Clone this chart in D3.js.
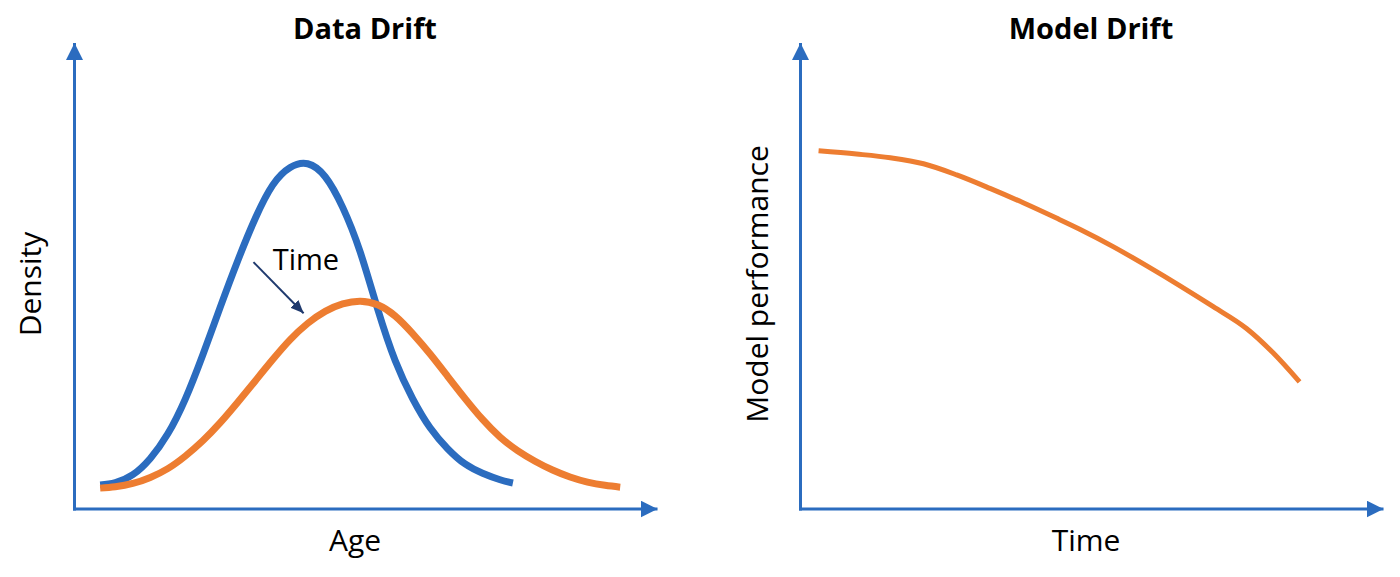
<!DOCTYPE html>
<html>
<head>
<meta charset="utf-8">
<script src="https://cdn.jsdelivr.net/npm/d3@7"></script>
<style>
  html, body { margin: 0; padding: 0; background: #fff; }
  text { font-family: "Open Sans", "Noto Sans", sans-serif; fill: #000; }
</style>
</head>
<body>
<svg id="chart" width="1400" height="577"></svg>
<script>
// left panel: two density curves (before / after drift), read at even age steps
const ageBefore     = [4.4, 7, 10, 13, 16, 19, 22, 25, 28, 31, 34, 37, 40, 43, 46, 49, 52, 55, 58, 61, 64, 67, 70, 73, 75.2];
const densityBefore = [5.2, 5.7, 7.4, 10.9, 16.2, 23.7, 33.2, 43.5, 53.5, 62.6, 69.8, 73.6, 74.4, 71.6, 65.0, 55.4, 43.1, 32.0, 23.8, 17.5, 13.0, 9.7, 7.7, 6.3, 5.6];
const ageAfter      = [4.4, 7, 10, 13, 16, 19, 22, 25, 28, 31, 34, 37, 40, 43, 46, 49, 52, 55, 58, 61, 64, 67, 70, 73, 76, 79, 82, 85, 88, 91, 93.6];
const densityAfter  = [4.5, 4.8, 5.5, 6.8, 8.7, 11.4, 14.7, 18.6, 23.0, 27.6, 32.2, 36.5, 40.0, 42.6, 44.2, 44.8, 44.0, 41.6, 37.8, 33.4, 28.6, 23.8, 19.3, 15.5, 12.6, 10.3, 8.4, 6.9, 5.8, 5.1, 4.7];

// right panel: model performance over time
const time        = [3.1, 9.6, 15.4, 21.1, 26.8, 32.5, 38.2, 43.9, 47.9, 53.7, 59.4, 65.1, 70.8, 76.5, 81.1, 85.6];
const performance = [77.2, 76.5, 75.7, 74.4, 72.0, 69.1, 66.0, 62.7, 60.3, 56.5, 52.4, 48.1, 43.6, 38.9, 33.6, 27.4];

// "Time" annotation arrow, in data units of the left panel
const driftArrow = [[30.7, 53.2], [39.3, 42.2]];

const AXIS = '#2b6cbf', BLUE = '#2b6cbf', ORANGE = '#ed7d31', NAVY = '#1f3a6e';

const svg = d3.select('#chart');
const defs = svg.append('defs');

defs.append('marker')
    .attr('id', 'axisHead')
    .attr('markerUnits', 'userSpaceOnUse')
    .attr('markerWidth', 17).attr('markerHeight', 17)
    .attr('refX', 17).attr('refY', 8.5)
    .attr('orient', 'auto')
    .append('path')
    .attr('d', 'M0,0L17,8.5L0,17Z')
    .attr('fill', AXIS);

defs.append('marker')
    .attr('id', 'noteHead')
    .attr('markerUnits', 'userSpaceOnUse')
    .attr('markerWidth', 13).attr('markerHeight', 11)
    .attr('refX', 13).attr('refY', 5.5)
    .attr('orient', 'auto')
    .append('path')
    .attr('d', 'M0,0L13,5.5L0,11Z')
    .attr('fill', NAVY);

function panel({ left, right, title, titleX, xLabel, xLabelX, yLabel, yLabelX }) {
  const bottom = 509, top = 43;
  const x = d3.scaleLinear().domain([0, 100]).range([left, right]);
  const y = d3.scaleLinear().domain([0, 100]).range([bottom, 45]);
  const g = svg.append('g');

  g.append('line')
   .attr('x1', left).attr('y1', bottom + 1.5)
   .attr('x2', left).attr('y2', top)
   .attr('stroke', AXIS).attr('stroke-width', 3)
   .attr('marker-end', 'url(#axisHead)');

  g.append('line')
   .attr('x1', left - 1.5).attr('y1', bottom)
   .attr('x2', right).attr('y2', bottom)
   .attr('stroke', AXIS).attr('stroke-width', 3)
   .attr('marker-end', 'url(#axisHead)');

  g.append('text')
   .attr('x', titleX).attr('y', 39)
   .attr('text-anchor', 'middle')
   .attr('font-size', 29).attr('font-weight', 'bold')
   .text(title);

  g.append('text')
   .attr('x', xLabelX).attr('y', 551)
   .attr('text-anchor', 'middle')
   .attr('font-size', 30)
   .text(xLabel);

  g.append('text')
   .attr('transform', 'translate(' + yLabelX + ',284) rotate(-90)')
   .attr('text-anchor', 'middle')
   .attr('font-size', 30)
   .text(yLabel);

  return { g, x, y };
}

function curve(p, xs, ys, color, width, shape) {
  const line = d3.line()
                 .x(d => p.x(d[0]))
                 .y(d => p.y(d[1]))
                 .curve(shape);
  p.g.append('path')
     .datum(xs.map((v, i) => [v, ys[i]]))
     .attr('d', line)
     .attr('fill', 'none')
     .attr('stroke', color)
     .attr('stroke-width', width)
     .attr('stroke-linecap', 'butt');
}

// Data Drift
const dataDrift = panel({
  left: 74.5, right: 657.5, title: 'Data Drift', titleX: 365,
  xLabel: 'Age', xLabelX: 355, yLabel: 'Density', yLabelX: 41
});
curve(dataDrift, ageBefore, densityBefore, BLUE, 7, d3.curveNatural);
curve(dataDrift, ageAfter, densityAfter, ORANGE, 7, d3.curveNatural);

dataDrift.g.append('line')
   .attr('x1', dataDrift.x(driftArrow[0][0])).attr('y1', dataDrift.y(driftArrow[0][1]))
   .attr('x2', dataDrift.x(driftArrow[1][0])).attr('y2', dataDrift.y(driftArrow[1][1]))
   .attr('stroke', NAVY).attr('stroke-width', 2)
   .attr('marker-end', 'url(#noteHead)');

dataDrift.g.append('text')
   .attr('x', dataDrift.x(34.0)).attr('y', dataDrift.y(51.5))
   .attr('font-size', 29)
   .text('Time');

// Model Drift
const modelDrift = panel({
  left: 800.5, right: 1383.5, title: 'Model Drift', titleX: 1091,
  xLabel: 'Time', xLabelX: 1086, yLabel: 'Model performance', yLabelX: 768
});
curve(modelDrift, time, performance, ORANGE, 5, d3.curveMonotoneX);
</script>
</body>
</html>
